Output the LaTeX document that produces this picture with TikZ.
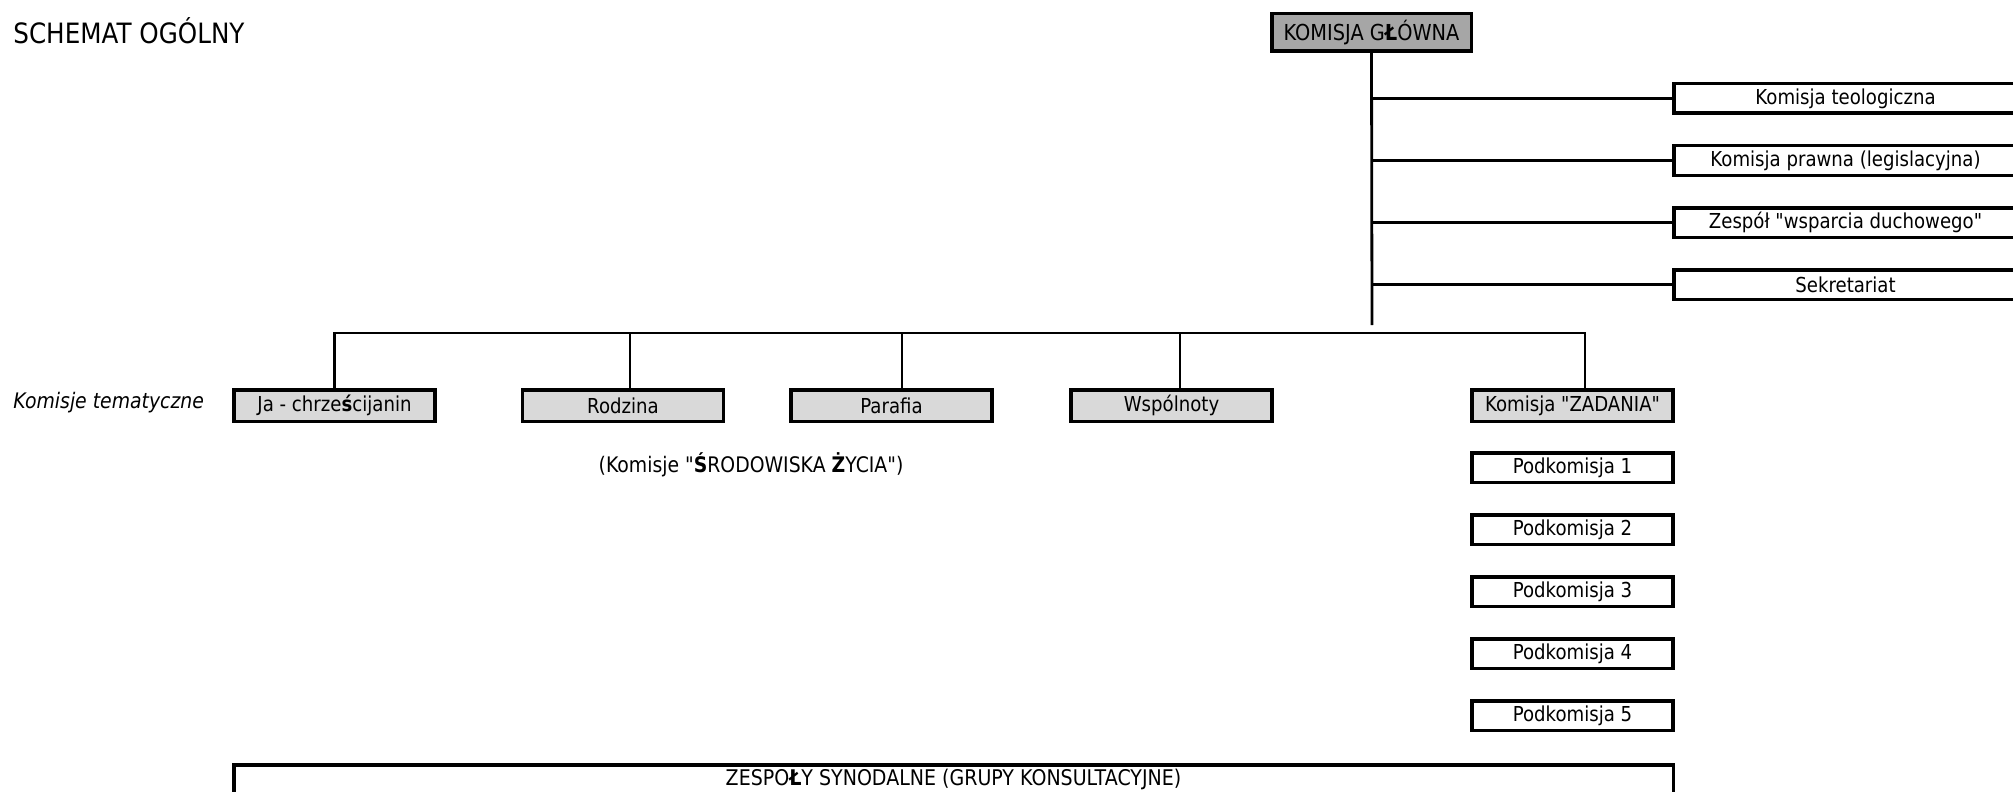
\documentclass[tikz,border=0pt]{standalone}
\usepackage{fontspec}
\setmainfont{DejaVu Sans}[FakeStretch=0.88, Ligatures=TeXOff]
\usepackage{tikz}
\usetikzlibrary{positioning}
\definecolor{szary}{HTML}{A6A6A6}
\definecolor{jasnoszary}{HTML}{D9D9D9}
\tikzstyle{glowna} = [rectangle, minimum width=99.75pt, minimum height=18.75pt, inner sep=0pt, text centered, draw=black, fill=szary, line width=1.75pt, font=\fontsize{11}{13}\selectfont]
\tikzstyle{zespol} = [rectangle, minimum width=171.75pt, minimum height=14.75pt, inner sep=0pt, text centered, draw=black, fill=white, line width=1.75pt]
\tikzstyle{tematyczna} = [rectangle, minimum width=100.5pt, minimum height=15.75pt, inner sep=0pt, text centered, draw=black, fill=jasnoszary, line width=1.75pt]
\tikzstyle{podkomisja} = [rectangle, minimum width=100.5pt, minimum height=14.75pt, inner sep=0pt, text centered, draw=black, fill=white, line width=1.75pt]
\tikzstyle{synodalne} = [rectangle, minimum width=719.75pt, minimum height=14.75pt, inner sep=0pt, text centered, draw=black, fill=white, line width=1.75pt, font=\fontsize{10.8}{13}\selectfont]
\tikzstyle{opis} = [inner sep=0pt, font=\fontsize{10.7}{13}\selectfont]
\tikzstyle{polacz} = [draw=black, line width=1.4pt]

\begin{document}
\begin{tikzpicture}[x=0.5pt, y=-0.5pt, node distance=31pt, font=\fontsize{10.3}{12}\selectfont]
\useasboundingbox (0,0) rectangle (2013,792);
\clip (0,0) rectangle (2013,792);
\node (tytul) [anchor=west, inner sep=0pt, font=\fontsize{14}{16}\selectfont] at (13,31) {SCHEMAT OGÓLNY};
\node (glowna) [glowna] at (1371.5,32.5) {KOMISJA G\textbf{Ł}ÓWNA};
\node (teologiczna) [zespol] at (1845.5,98.5) {Komisja teologiczna};
\node (prawna) [zespol, below of=teologiczna] {Komisja prawna (legislacyjna)};
\node (duchowe) [zespol, below of=prawna] {Zespół "wsparcia duchowego"};
\node (sekretariat) [zespol, below of=duchowe] {Sekretariat};
\node (tematyczne) [opis, anchor=west, font={\fontsize{10.7}{13}\selectfont\itshape}] at (13,403) {Komisje tematyczne};
\node (ja) [tematyczna] at (334.5,405.5) {Ja - chrze\textbf{ś}cijanin};
\node (rodzina) [tematyczna] at (623,405.5) {Rodzina};
\node (parafia) [tematyczna] at (891.5,405.5) {Parafia};
\node (wspolnoty) [tematyczna] at (1171.5,405.5) {Wspólnoty};
\node (zadania) [tematyczna] at (1572.5,405.5) {Komisja "ZADANIA"};
\node (srodowiska) [opis] at (751,465) {(Komisje "\textbf{Ś}RODOWISKA \textbf{Ż}YCIA")};
\node (pod1) [podkomisja, below of=zadania] {Podkomisja 1};
\node (pod2) [podkomisja, below of=pod1] {Podkomisja 2};
\node (pod3) [podkomisja, below of=pod2] {Podkomisja 3};
\node (pod4) [podkomisja, below of=pod3] {Podkomisja 4};
\node (pod5) [podkomisja, below of=pod4] {Podkomisja 5};
\node (synodalne) [synodalne] at (953.5,779.5) {ZESPO\textbf{Ł}Y SYNODALNE (GRUPY KONSULTACYJNE)};
\coordinate (koniec) at (1372,325);
\coordinate (szyna) at (0,333);
\draw [polacz] (glowna.south) -- (koniec);
\draw [polacz] (glowna.south |- teologiczna.west) -- (teologiczna.west);
\draw [polacz] (glowna.south |- prawna.west) -- (prawna.west);
\draw [polacz] (glowna.south |- duchowe.west) -- (duchowe.west);
\draw [polacz] (glowna.south |- sekretariat.west) -- (sekretariat.west);
\draw [polacz] (ja.north) |- ([xshift=6.25pt]zadania.north |- szyna) -- ([xshift=6.25pt]zadania.north);
\draw [polacz] ([xshift=3.5pt]rodzina.north) -- ([xshift=3.5pt]rodzina.north |- szyna);
\draw [polacz] ([xshift=5.25pt]parafia.north) -- ([xshift=5.25pt]parafia.north |- szyna);
\draw [polacz] ([xshift=4.25pt]wspolnoty.north) -- ([xshift=4.25pt]wspolnoty.north |- szyna);
\end{tikzpicture}
\end{document}
